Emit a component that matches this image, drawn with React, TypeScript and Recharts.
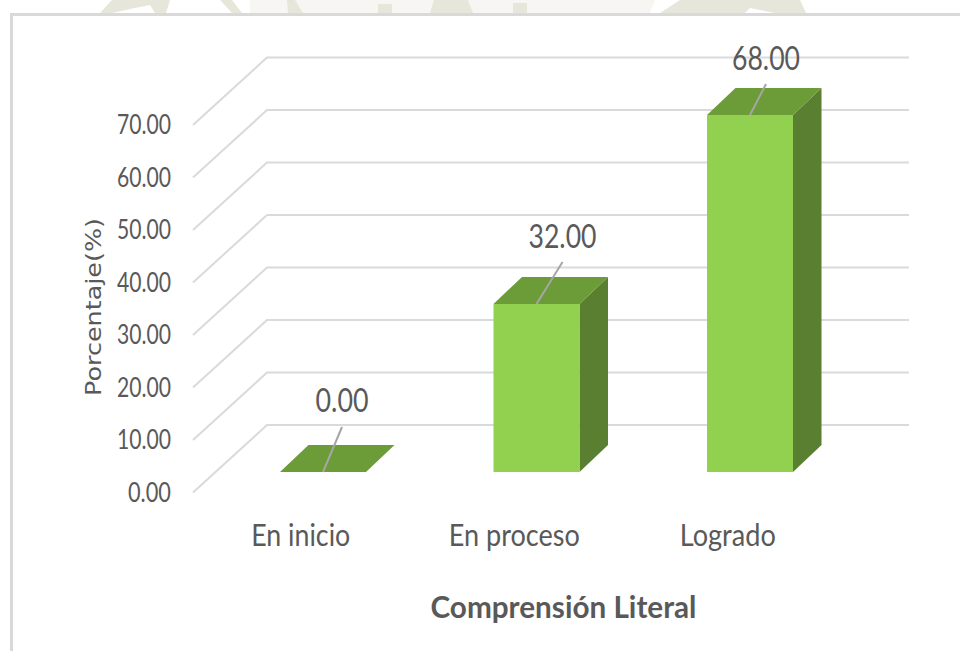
import React from "react";
import { BarChart, Bar, XAxis, YAxis, CartesianGrid, LabelList } from "recharts";

const categories = ["En inicio", "En proceso", "Logrado"];
const values = [0, 32, 68];
const yTicks = [0, 10, 20, 30, 40, 50, 60, 70];
const xAxisTitle = "Comprensión Literal";
const yAxisTitle = "Porcentaje(%)";

const chartData = categories.map((name, i) => ({ name, value: values[i] }));

const FONT = "Lato, 'Open Sans', sans-serif";
const TEXT = "#595959";
const GRID = "#dadada";
const FRONT = "#92d050";
const TOP = "#6b9c37";
const SIDE = "#5a7f31";

// 3D projection, in pixels
const WALL_DX = 74;
const WALL_DY = 67.5;
const GRID_END = 909;
const BAR_DX = 21;
const BAR_DY = 20.5;
const DEPTH_X = 28.5;
const DEPTH_Y = 27;

const xTickWidths = [99, 131, 96];
const leaders = [
  { dx: 19, dy: -45, ly: -72 },
  { dx: 26, dy: -42, ly: -68 },
  { dx: 16, dy: -31, ly: -57 },
];

const GridLine = (props: any) => {
  const { x1, y1 } = props;
  return (
    <polyline
      key={props.key ?? y1}
      points={`${x1 - 3},${y1} ${x1 + WALL_DX - 3},${y1 - WALL_DY} ${GRID_END},${y1 - WALL_DY}`}
      fill="none"
      stroke={GRID}
      strokeWidth={2}
    />
  );
};

const YTick = (props: any) => {
  const { x, y, payload } = props;
  const label = Number(payload.value).toFixed(2);
  return (
    <text
      x={x - 17}
      y={y}
      dy={9}
      textAnchor="end"
      fontFamily={FONT}
      fontSize={27}
      fill={TEXT}
      textLength={label.length === 5 ? 54 : 43}
      lengthAdjust="spacingAndGlyphs"
    >
      {label}
    </text>
  );
};

const XTick = (props: any) => {
  const { x, payload, index } = props;
  return (
    <text
      x={x - 2}
      y={546}
      textAnchor="middle"
      fontFamily={FONT}
      fontSize={30}
      fill={TEXT}
      textLength={xTickWidths[index]}
      lengthAdjust="spacingAndGlyphs"
    >
      {payload.value}
    </text>
  );
};

const Bar3D = (props: any) => {
  const { x, y, width, height } = props;
  const l = x + BAR_DX - 1;
  const r = l + width;
  const t = y - BAR_DY;
  const b = y + height - BAR_DY;
  const top = `${l},${t} ${r},${t} ${r + DEPTH_X},${t - DEPTH_Y} ${l + DEPTH_X},${t - DEPTH_Y}`;
  return (
    <g>
      {height > 0.5 && (
        <>
          <polygon
            points={`${r},${t} ${r + DEPTH_X},${t - DEPTH_Y} ${r + DEPTH_X},${b - DEPTH_Y} ${r},${b}`}
            fill={SIDE}
          />
          <rect x={l} y={t} width={width} height={b - t} fill={FRONT} />
        </>
      )}
      <polygon points={top} fill={TOP} />
    </g>
  );
};

const ValueLabel = (props: any) => {
  const { x, y, width, value, index } = props;
  const cx = x + width / 2 + BAR_DX - 1;
  const t = y - BAR_DY;
  const lead = leaders[index];
  const label = Number(value).toFixed(2);
  return (
    <g>
      <line x1={cx} y1={t} x2={cx + lead.dx} y2={t + lead.dy} stroke="#a6a6a6" strokeWidth={2} />
      <text
        x={cx + lead.dx}
        y={t + lead.ly}
        dy={11.5}
        textAnchor="middle"
        fontFamily={FONT}
        fontSize={32}
        fill={TEXT}
        textLength={label.length === 5 ? 68 : 53}
        lengthAdjust="spacingAndGlyphs"
      >
        {label}
      </text>
    </g>
  );
};

const XTitle = () => (
  <text
    x={563.5}
    y={618}
    textAnchor="middle"
    fontFamily={FONT}
    fontSize={30}
    fontWeight={700}
    fill={TEXT}
    textLength={266}
    lengthAdjust="spacingAndGlyphs"
  >
    {xAxisTitle}
  </text>
);

const YTitle = () => (
  <text
    transform="translate(101 307) rotate(-90)"
    textAnchor="middle"
    fontFamily="'DejaVu Sans', sans-serif"
    fontSize={22}
    fill={TEXT}
    textLength={178}
    lengthAdjust="spacingAndGlyphs"
  >
    {yAxisTitle}
  </text>
);

const watermarkPale = [[250, 0, 510, 0, 510, 13, 250, 13], [500, 0, 655, 0, 650, 13, 500, 13]];
const watermark = [
  [100, 13, 112, 0, 170, 0, 166, 13, 155, 13, 150, 5, 135, 8, 112, 13],
  [220, 0, 232, 0, 242, 13, 232, 13],
  [287, 0, 295, 0, 303, 13, 288, 13],
  [378, 4, 392, 4, 392, 13, 378, 13],
  [430, 13, 434, 0, 468, 0, 473, 13],
  [513, 3, 527, 3, 527, 13, 513, 13],
  [660, 13, 680, 0, 800, 0, 806, 13, 775, 13, 750, 8, 745, 13, 690, 13],
];

export default function App() {
  return (
    <div
      style={{
        position: "absolute",
        left: 0,
        top: 0,
        width: 960,
        height: 651,
        overflow: "hidden",
        background: "#fff",
      }}
    >
      <svg width={960} height={14} style={{ position: "absolute", left: 0, top: 0 }}>
        {watermarkPale.map((p, i) => (
          <polygon key={i} points={p.join(" ")} fill="#f7f6f2" />
        ))}
        {watermark.map((p, i) => (
          <polygon key={i} points={p.join(" ")} fill="#e6e6da" />
        ))}
      </svg>
      <div
        style={{
          position: "absolute",
          left: 10,
          top: 13,
          width: 960,
          height: 660,
          borderLeft: "3px solid #d9d9d9",
          borderTop: "3px solid #d9d9d9",
        }}
      />
      <div style={{ position: "absolute", left: 0, top: 0 }}>
        <BarChart
          width={960}
          height={651}
          data={chartData}
          margin={{ top: 125, right: 123.5, bottom: 0, left: 0 }}
          style={{ overflow: "visible" }}
        >
          <CartesianGrid vertical={false} horizontal={GridLine as any} />
          <XAxis
            dataKey="name"
            axisLine={false}
            tickLine={false}
            height={158.5}
            interval={0}
            tick={XTick as any}
            label={XTitle as any}
          />
          <YAxis
            type="number"
            domain={[0, 70]}
            ticks={yTicks}
            width={196}
            axisLine={false}
            tickLine={false}
            tick={YTick as any}
            label={YTitle as any}
          />
          <Bar dataKey="value" barSize={86} shape={Bar3D as any} isAnimationActive={false}>
            <LabelList dataKey="value" content={ValueLabel as any} />
          </Bar>
        </BarChart>
      </div>
    </div>
  );
}
